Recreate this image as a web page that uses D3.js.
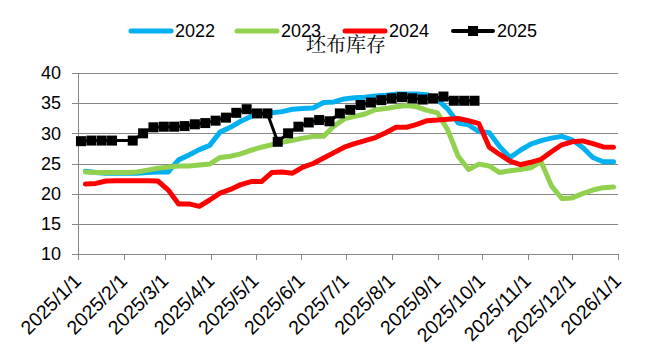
<!DOCTYPE html>
<html><head><meta charset="utf-8">
<script src="https://cdn.jsdelivr.net/npm/d3@7"></script>
<style>
html,body{margin:0;padding:0;background:#fff;}
svg{display:block;}
text{font-family:"Liberation Sans",Arial,sans-serif;fill:#000;}
</style></head>
<body>
<svg id="chart" width="659" height="363"></svg>
<script>
// ---- data ----
const seriesNames = ["2022","2023","2024","2025"];
const seriesColors = ["#00B0F0","#92D050","#FF0000","#000000"];
const pastDates = ["2025-01-06","2025-01-13","2025-01-20","2025-01-27","2025-02-03","2025-02-10","2025-02-17","2025-02-24",
 "2025-03-03","2025-03-10","2025-03-17","2025-03-24","2025-03-31","2025-04-07","2025-04-14","2025-04-21","2025-04-28",
 "2025-05-05","2025-05-12","2025-05-19","2025-05-26","2025-06-02","2025-06-09","2025-06-16","2025-06-23","2025-06-30",
 "2025-07-07","2025-07-14","2025-07-21","2025-07-28","2025-08-04","2025-08-11","2025-08-18","2025-08-25",
 "2025-09-01","2025-09-08","2025-09-15","2025-09-22","2025-09-29","2025-10-06","2025-10-13","2025-10-20","2025-10-27",
 "2025-11-03","2025-11-10","2025-11-17","2025-11-24","2025-12-01","2025-12-08","2025-12-15","2025-12-22","2025-12-29"];
const dates2025 = ["2025-01-03","2025-01-10","2025-01-17","2025-01-24","2025-02-07","2025-02-14","2025-02-21","2025-02-28",
 "2025-03-07","2025-03-14","2025-03-21","2025-03-28","2025-04-04","2025-04-11","2025-04-18","2025-04-25",
 "2025-05-02","2025-05-09","2025-05-16","2025-05-23","2025-05-30","2025-06-06","2025-06-13","2025-06-20","2025-06-27",
 "2025-07-04","2025-07-11","2025-07-18","2025-07-25","2025-08-01","2025-08-08","2025-08-15","2025-08-22","2025-08-29",
 "2025-09-05","2025-09-12","2025-09-19","2025-09-26"];
const values2022 = [23.7,23.5,23.4,23.4,23.4,23.4,23.5,23.6,23.6,25.6,26.4,27.3,28.0,30.2,31.0,32.0,32.8,33.3,33.4,33.6,
 34.0,34.1,34.2,35.1,35.2,35.7,35.9,36.0,36.2,36.3,36.5,36.5,36.5,36.4,35.6,34.0,31.7,31.4,30.3,30.1,27.8,26.0,27.2,
 28.2,28.8,29.2,29.5,28.9,27.7,26.0,25.3,25.3];
const values2023 = [23.6,23.5,23.5,23.5,23.5,23.6,23.9,24.2,24.4,24.6,24.6,24.75,24.9,26.0,26.2,26.6,27.2,27.7,28.1,28.5,
 28.85,29.2,29.5,29.5,31.2,32.4,32.8,33.2,33.9,34.1,34.4,34.6,34.4,33.8,33.4,30.5,26.2,24.0,24.9,24.6,23.5,23.8,24.0,
 24.3,25.3,21.3,19.2,19.3,20.0,20.6,21.0,21.1];
const values2024 = [21.6,21.7,22.1,22.15,22.15,22.15,22.15,22.1,20.6,18.3,18.3,17.9,18.95,20.1,20.7,21.5,22.0,22.0,23.5,
 23.6,23.4,24.4,25.0,25.9,26.8,27.7,28.3,28.8,29.3,30.1,31.0,31.0,31.5,32.1,32.2,32.35,32.45,32.1,31.6,27.7,26.5,25.4,
 24.8,25.2,25.7,26.95,28.1,28.6,28.75,28.3,27.75,27.7];
const values2025 = [28.7,28.8,28.8,28.8,28.8,30.0,31.0,31.1,31.1,31.2,31.5,31.7,32.1,32.6,33.4,34.0,33.3,33.3,28.6,30.0,
 31.1,31.8,32.2,32.0,33.3,33.9,34.7,35.1,35.5,35.8,36.0,35.8,35.6,35.8,36.1,35.4,35.4,35.4];
const yTicks = [10,15,20,25,30,35,40];
const xTickLabels = ["2025/1/1","2025/2/1","2025/3/1","2025/4/1","2025/5/1","2025/6/1","2025/7/1","2025/8/1",
 "2025/9/1","2025/10/1","2025/11/1","2025/12/1","2026/1/1"];
const chartTitle = "坯布库存";

// ---- chart ----
const svg = d3.select("#chart");
const parseD = d3.timeParse("%Y-%m-%d");
const parseTick = d3.timeParse("%Y/%m/%d");
const mLeft = 78, mRight = 618, mTop = 73, mBottom = 254;
const x = d3.scaleTime().domain([parseTick(xTickLabels[0]), parseTick(xTickLabels[xTickLabels.length-1])]).range([mLeft, mRight]);
const y = d3.scaleLinear().domain([10, 40]).range([mBottom, mTop]);
const grid = "#868686";

// gridlines + y axis
const yAxis = d3.axisLeft(y).tickValues(yTicks).tickSize(mRight - mLeft + 6).tickPadding(12).tickFormat(d3.format("d"));
const gy = svg.append("g").attr("transform", `translate(${mRight},0)`).call(yAxis);
gy.select(".domain").remove();
gy.selectAll(".tick line").attr("stroke", grid).attr("stroke-width", 1).attr("shape-rendering","crispEdges");
gy.selectAll(".tick text").attr("font-size", 18).attr("fill", "#000").attr("x", -(mRight-mLeft) - 17);
svg.append("line").attr("x1", mLeft).attr("x2", mLeft).attr("y1", mTop).attr("y2", mBottom)
  .attr("stroke", grid).attr("shape-rendering","crispEdges");

// x axis
const xAxis = d3.axisBottom(x).tickValues(xTickLabels.map(parseTick)).tickSize(6)
  .tickFormat(d3.timeFormat("%Y/%-m/%-d"));
const gx = svg.append("g").attr("transform", `translate(0,${mBottom})`).call(xAxis);
gx.select(".domain").attr("stroke", grid).attr("shape-rendering","crispEdges");
gx.selectAll(".tick line").attr("stroke", grid).attr("shape-rendering","crispEdges");
gx.selectAll(".tick text").attr("font-size", 19.5).attr("fill", "#000")
  .attr("text-anchor", "end").attr("dy", 0)
  .attr("transform", "translate(4,28) rotate(-45)")
  .attr("y", 0).attr("x", 0);

// series
const line = d3.line().x(d => x(d.date)).y(d => y(d.value));
const allValues = [values2022, values2023, values2024, values2025];
const allDates = [pastDates, pastDates, pastDates, dates2025];
allValues.forEach((vals, i) => {
  const data = vals.map((v, k) => ({date: parseD(allDates[i][k]), value: v}));
  const isLast = i === 3;
  svg.append("path").datum(data).attr("d", line).attr("fill", "none")
    .attr("stroke", seriesColors[i]).attr("stroke-width", isLast ? 3 : 5)
    .attr("stroke-linejoin", "round").attr("stroke-linecap", "round");
  if (isLast) {
    svg.append("g").selectAll("rect").data(data).join("rect")
      .attr("x", d => x(d.date) - 5).attr("y", d => y(d.value) - 5)
      .attr("width", 10).attr("height", 10).attr("fill", seriesColors[i]);
  }
});

// legend
const legendX = [129, 235, 343, 451];
const lg = svg.append("g");
seriesNames.forEach((name, i) => {
  const g = lg.append("g").attr("transform", `translate(${legendX[i]},31)`);
  g.append("line").attr("x1", 2).attr("x2", 42).attr("y1", 0).attr("y2", 0)
    .attr("stroke", seriesColors[i]).attr("stroke-width", i === 3 ? 4 : 5).attr("stroke-linecap", "round");
  if (i === 3) g.append("rect").attr("x", 17).attr("y", -5).attr("width", 10).attr("height", 10).attr("fill", seriesColors[i]);
  g.append("text").attr("x", 46).attr("y", 0).attr("dy", "0.36em").attr("font-size", 18).text(name);
});

// title
svg.append("text").attr("x", 346).attr("y", 52).attr("text-anchor", "middle")
  .attr("font-size", 20).style("font-family", '"Noto Serif CJK SC","Noto Sans CJK SC", serif').attr("fill", "#222").text(chartTitle);
</script>
</body></html>
